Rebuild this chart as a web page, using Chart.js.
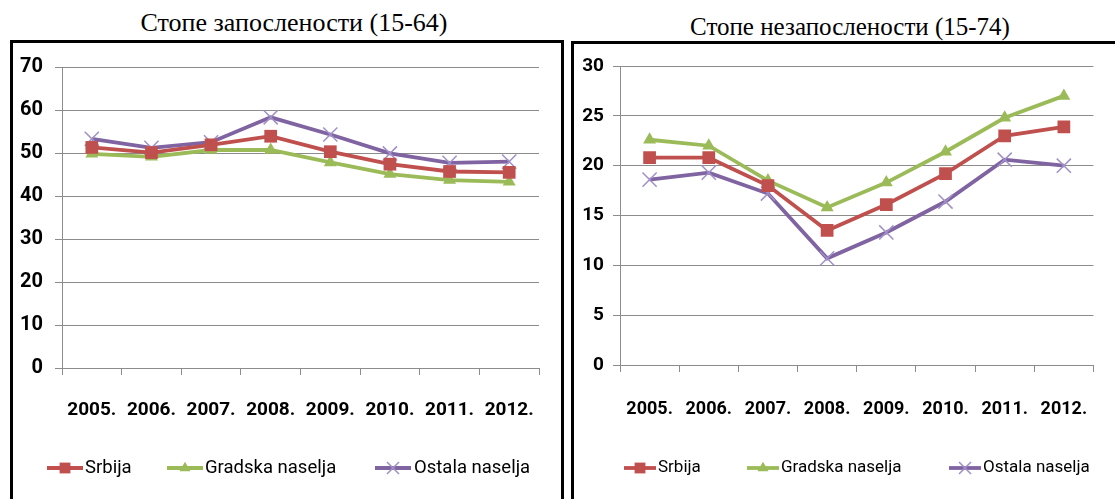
<!DOCTYPE html>
<html><head><meta charset="utf-8">
<script src="https://cdn.jsdelivr.net/npm/chart.js@4.4.0/dist/chart.umd.min.js"></script>
<style>
html,body{margin:0;padding:0;background:#fff;width:1115px;height:499px;overflow:hidden;}
body{position:relative;}
.title{position:absolute;font-family:"Liberation Serif","Times New Roman",serif;line-height:30px;white-space:nowrap;transform:translateX(-50%);color:#000;}
.box{position:absolute;border:3px solid #000;box-sizing:border-box;}
.wrap{position:absolute;}
</style></head><body>
<div class="title" style="left:294px;top:8px;font-size:26px">Стопе запослености (15-64)</div>
<div class="title" style="left:850px;top:12px;font-size:25px">Стопе незапослености (15-74)</div>
<div class="box" style="left:10px;top:40px;width:554px;height:480px"></div>
<div class="box" style="left:571px;top:41px;width:570px;height:480px"></div>
<div class="wrap" style="left:13px;top:43px;width:548px;height:456px"><canvas id="c1"></canvas></div>
<div class="wrap" style="left:574px;top:44px;width:541px;height:455px"><canvas id="c2"></canvas></div>
<script>
// ---- data ----
const years = ['2005.','2006.','2007.','2008.','2009.','2010.','2011.','2012.'];
const seriesNames = ['Srbija','Gradska naselja','Ostala naselja'];
// employment rates (15-64)
const empSrbija  = [51.3, 50.1, 51.9, 53.9, 50.3, 47.4, 45.7, 45.5];
const empGradska = [49.8, 49.1, 50.7, 50.7, 47.8, 45.1, 43.7, 43.3];
const empOstala  = [53.3, 51.2, 52.5, 58.3, 54.3, 49.9, 47.7, 48.0];
// unemployment rates (15-74)
const unSrbija  = [20.8, 20.8, 18.0, 13.5, 16.1, 19.2, 23.0, 23.9];
const unGradska = [22.6, 22.0, 18.5, 15.8, 18.3, 21.4, 24.8, 27.0];
const unOstala  = [18.6, 19.3, 17.2, 10.7, 13.3, 16.4, 20.6, 20.0];
// axis ticks
const empAxis = {min: 0, max: 70, step: 10};
const unAxis  = {min: 0, max: 30, step: 5};

// ---- style ----
const FONT = 'Roboto,"Liberation Sans",sans-serif';
const RED = '#C0504D', GREEN = '#9BBB59', PURPLE = '#8064A2', XCOL = '#a090c8';
const GRID = '#8c8c8c';

function makeDatasets(a, b, c) {
  return [
    {label: seriesNames[0], data: a, borderColor: RED, backgroundColor: RED, borderWidth: 3.8,
     pointStyle: 'rect', pointRadius: 9, pointHoverRadius: 9, pointBackgroundColor: RED, pointBorderColor: RED, pointBorderWidth: 0},
    {label: seriesNames[1], data: b, borderColor: GREEN, backgroundColor: GREEN, borderWidth: 3.8,
     pointStyle: 'triangle', pointRadius: 7.5, pointHoverRadius: 7.5, pointBackgroundColor: GREEN, pointBorderColor: GREEN, pointBorderWidth: 0},
    {label: seriesNames[2], data: c, borderColor: PURPLE, backgroundColor: PURPLE, borderWidth: 3.8,
     pointStyle: 'crossRot', pointRadius: 10, pointHoverRadius: 10, pointBackgroundColor: XCOL, pointBorderColor: XCOL, pointBorderWidth: 1.5}
  ];
}

const legendPlugin = {
  id: 'lineLegend',
  afterDraw(chart, args, opts) {
    const ctx = chart.ctx;
    ctx.save();
    chart.data.datasets.forEach((ds, i) => {
      const it = opts.items[i];
      const y = opts.y;
      ctx.strokeStyle = ds.borderColor;
      ctx.lineWidth = ds.borderWidth;
      ctx.beginPath();
      ctx.moveTo(it.x - opts.lineLen / 2, y);
      ctx.lineTo(it.x + opts.lineLen / 2, y);
      ctx.stroke();
      ctx.fillStyle = ds.pointBackgroundColor;
      ctx.strokeStyle = ds.pointBorderColor;
      ctx.lineWidth = ds.pointBorderWidth;
      Chart.helpers.drawPoint(ctx, {pointStyle: ds.pointStyle, rotation: 0, radius: ds.pointRadius * opts.markerScale, borderWidth: ds.pointBorderWidth}, it.x, y);
      ctx.fillStyle = '#000';
      ctx.font = opts.fontSize + 'px ' + FONT;
      ctx.textBaseline = 'middle';
      ctx.textAlign = 'left';
      ctx.fillText(ds.label, it.tx, y);
    });
    ctx.restore();
  }
};

function makeChart(id, datasets, axis, L) {
  return new Chart(document.getElementById(id), {
    type: 'line',
    data: {labels: years, datasets: datasets},
    plugins: [legendPlugin],
    options: {
      responsive: true, maintainAspectRatio: false, animation: false,
      layout: {padding: {left: 0, right: L.padRight, top: L.padTop, bottom: 0}},
      elements: {line: {tension: 0}},
      plugins: {
        legend: {display: false}, tooltip: {enabled: false},
        lineLegend: L.legend
      },
      scales: {
        x: {
          type: 'category', offset: true,
          grid: {display: true, drawOnChartArea: false, drawTicks: true, tickLength: 7, color: GRID, offset: true},
          border: {display: true, color: GRID, width: 1},
          ticks: {color: '#000', font: {family: FONT, size: L.xFont, weight: 'bold'}, padding: L.xPad, maxRotation: 0, autoSkip: false},
          afterFit(s) { s.height = L.xHeight; }
        },
        y: {
          min: axis.min, max: axis.max,
          grid: {color: GRID, lineWidth: 1, drawTicks: true, tickLength: 7},
          border: {display: true, color: GRID, width: 1},
          ticks: {stepSize: axis.step, color: '#000', font: {family: FONT, size: L.yFont, weight: 'bold'}, padding: L.yPad},
          afterFit(s) { s.width = L.yWidth; }
        }
      }
    }
  });
}

makeChart('c1', makeDatasets(empSrbija, empGradska, empOstala), empAxis, {
  padRight: 22, padTop: 23, xHeight: 131, yWidth: 49, xFont: 19, yFont: 20, xPad: 24, yPad: 12,
  legend: {y: 425, lineLen: 36, markerScale: 0.85, fontSize: 18.5,
    items: [{x: 52, tx: 72}, {x: 172, tx: 192}, {x: 380, tx: 401}]}
});
makeChart('c2', makeDatasets(unSrbija, unGradska, unOstala), unAxis, {
  padRight: 14, padTop: 22, xHeight: 134, yWidth: 46, xFont: 18, yFont: 19, xPad: 27, yPad: 9,
  legend: {y: 424, lineLen: 32, markerScale: 0.85, fontSize: 17,
    items: [{x: 66, tx: 84}, {x: 189, tx: 207}, {x: 391, tx: 409}]}
});
</script>
</body></html>
